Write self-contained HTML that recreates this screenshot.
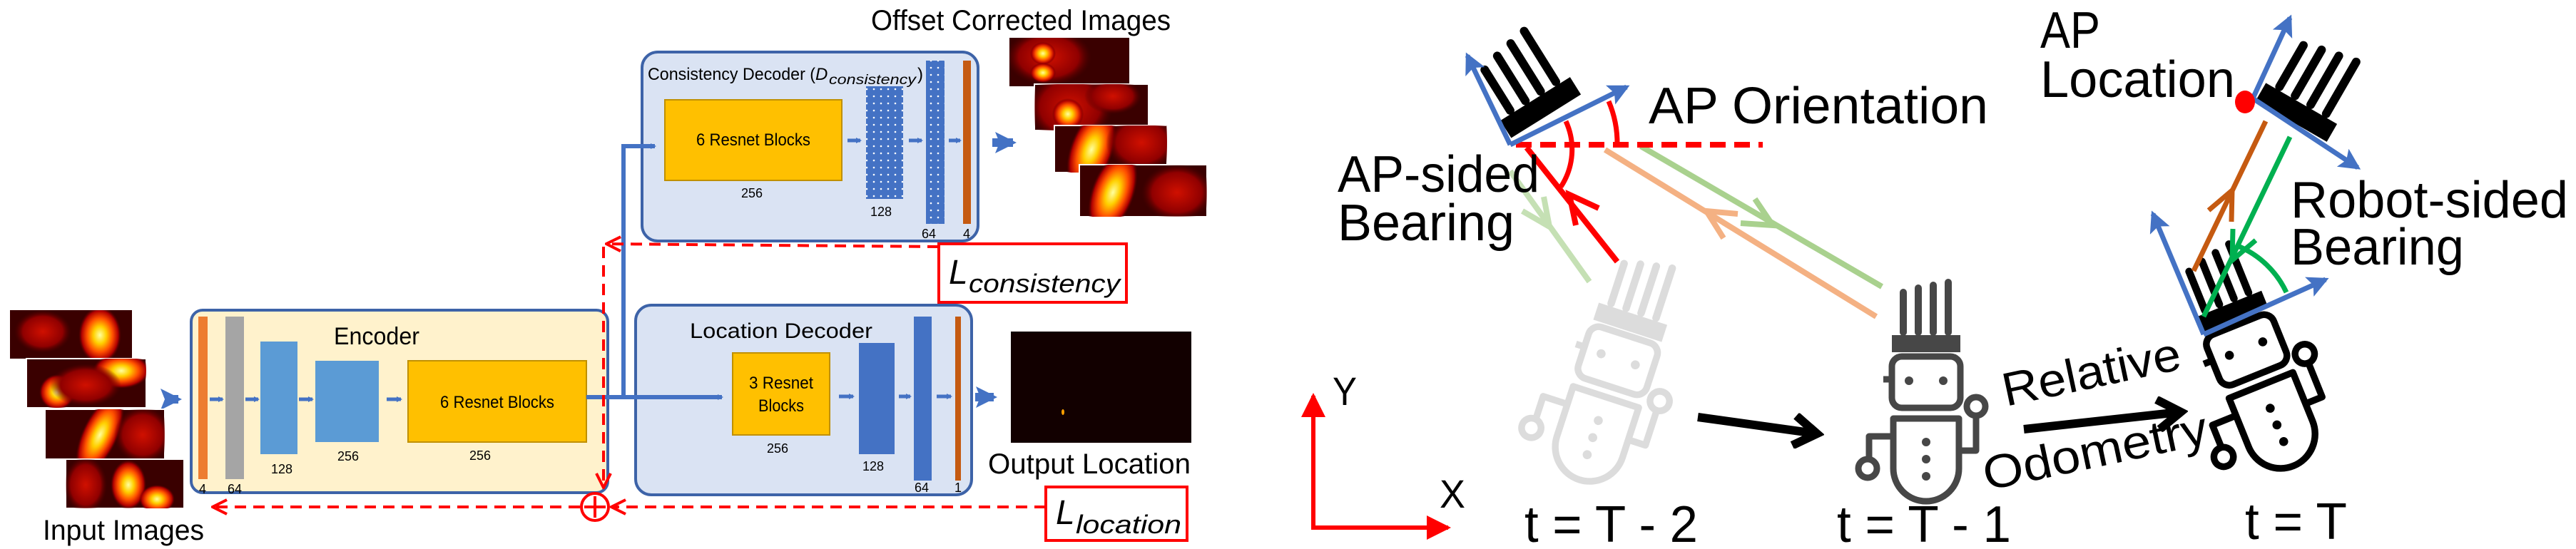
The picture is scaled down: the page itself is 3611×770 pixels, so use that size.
<!DOCTYPE html>
<html><head><meta charset="utf-8"><style>
html,body{margin:0;padding:0;background:#fff;}
svg{display:block;}
text{font-family:"Liberation Sans",sans-serif;}
</style></head><body>
<svg width="3611" height="770" viewBox="0 0 3611 770" xmlns="http://www.w3.org/2000/svg">
<defs>
<radialGradient id="hot" cx="50%" cy="50%" r="50%">
<stop offset="0" stop-color="#ffffa0"/><stop offset="0.3" stop-color="#ffd000"/><stop offset="0.6" stop-color="#ff5000"/><stop offset="0.85" stop-color="#b00000"/><stop offset="1" stop-color="#5a0000" stop-opacity="0"/>
</radialGradient>
<radialGradient id="red" cx="50%" cy="50%" r="50%">
<stop offset="0" stop-color="#d01000"/><stop offset="0.7" stop-color="#900000"/><stop offset="1" stop-color="#500000" stop-opacity="0"/>
</radialGradient>
<pattern id="dots" width="10" height="10" patternUnits="userSpaceOnUse">
<rect width="10" height="10" fill="#4472c4"/><circle cx="5" cy="5" r="1.3" fill="#fff"/>
</pattern>
<marker id="ab" markerWidth="8" markerHeight="8" refX="6" refY="4" orient="auto" markerUnits="userSpaceOnUse" viewBox="0 0 8 8"><path d="M0,0 L8,4 L0,8 z" fill="#4472c4"/></marker>
<marker id="bl" markerWidth="30" markerHeight="30" refX="25" refY="15" orient="auto" markerUnits="userSpaceOnUse"><path d="M0,0 L30,15 L0,30 L6,15 z" fill="#4472c4"/></marker>
<marker id="rd" markerWidth="24" markerHeight="24" refX="22" refY="12" orient="auto" markerUnits="userSpaceOnUse"><path d="M2,2 L22,12 L2,22" fill="none" stroke="#f00" stroke-width="4"/></marker>
<marker id="rda" markerWidth="34" markerHeight="34" refX="30" refY="17" orient="auto" markerUnits="userSpaceOnUse"><path d="M0,0 L34,17 L0,34 z" fill="#f00"/></marker>
<marker id="bk" markerWidth="50" markerHeight="50" refX="38" refY="25" orient="auto" markerUnits="userSpaceOnUse"><path d="M8,4 L40,25 L8,46" fill="none" stroke="#000" stroke-width="12"/></marker>
<g id="comb">
<rect x="-48" y="-22" width="96" height="24" fill="currentColor"/>
<g stroke="currentColor" stroke-width="10" stroke-linecap="round">
<line x1="-32" y1="-26" x2="-32" y2="-82"/><line x1="-11" y1="-26" x2="-11" y2="-88"/><line x1="10" y1="-26" x2="10" y2="-92"/><line x1="31" y1="-26" x2="31" y2="-96"/>
</g>
</g>
<g id="robot">
<use href="#comb"/>
<g fill="none" stroke="currentColor" stroke-width="9" stroke-linejoin="round">
<rect x="-48" y="8" width="96" height="72" rx="14"/>
<line x1="-48" y1="40" x2="-60" y2="40"/>
<path d="M-46,95 H46 V165 A46,46 0 0 1 -46,165 Z"/>
<path d="M46,140 H70 V92"/><circle cx="70" cy="78" r="13"/>
<path d="M-46,120 H-80 V150"/><circle cx="-82" cy="165" r="13"/>
</g>
<g fill="currentColor"><circle cx="-24" cy="42" r="6"/><circle cx="24" cy="42" r="6"/><circle cx="0" cy="128" r="6"/><circle cx="0" cy="152" r="6"/><circle cx="0" cy="176" r="6"/></g>
</g>
</defs>

<!-- ===== LEFT PANEL ===== -->
<text x="1221" y="42" font-size="40" textLength="420" lengthAdjust="spacingAndGlyphs">Offset Corrected Images</text>

<rect x="900" y="73" width="471" height="265" rx="22" fill="#dae3f3" stroke="#3d63a8" stroke-width="4"/>
<text x="908" y="112" font-size="24" textLength="235" lengthAdjust="spacingAndGlyphs">Consistency Decoder (</text>
<text x="1143" y="112" font-size="24" font-style="italic" font-family="Liberation Serif">D</text>
<text x="1162" y="118" font-size="19" font-style="italic" font-family="Liberation Serif" textLength="122" lengthAdjust="spacingAndGlyphs">consistency</text>
<text x="1286" y="112" font-size="24">)</text>
<rect x="932" y="140" width="248" height="113" fill="#ffc000" stroke="#c09000" stroke-width="2"/>
<text x="1056" y="204" font-size="24" text-anchor="middle" textLength="160" lengthAdjust="spacingAndGlyphs">6 Resnet Blocks</text>
<text x="1054" y="277" font-size="18" text-anchor="middle">256</text>
<rect x="1214" y="121" width="52" height="158" fill="url(#dots)"/>
<text x="1235" y="303" font-size="18" text-anchor="middle">128</text>
<rect x="1298" y="85" width="26" height="229" fill="url(#dots)"/>
<text x="1302" y="334" font-size="18" text-anchor="middle">64</text>
<rect x="1350" y="85" width="11" height="229" fill="#c55a11"/>
<text x="1355" y="334" font-size="18" text-anchor="middle">4</text>
<g stroke="#4472c4" stroke-width="5" marker-end="url(#ab)">
<line x1="1188" y1="197" x2="1206" y2="197"/><line x1="1274" y1="197" x2="1292" y2="197"/><line x1="1330" y1="197" x2="1346" y2="197"/>
</g>
<line x1="1391" y1="200" x2="1420" y2="200" stroke="#4472c4" stroke-width="12" marker-end="url(#bl)"/>

<g>
<clipPath id="c1"><rect x="1415" y="53" width="168" height="68"/></clipPath>
<rect x="1415" y="53" width="168" height="68" fill="#3a0000"/>
<g clip-path="url(#c1)"><ellipse cx="1470" cy="80" rx="60" ry="40" fill="url(#red)"/><ellipse cx="1462" cy="75" rx="18" ry="16" fill="url(#hot)"/><ellipse cx="1462" cy="102" rx="18" ry="14" fill="url(#hot)"/></g>
<clipPath id="c2"><rect x="1450" y="118" width="160" height="65"/></clipPath>
<rect x="1450" y="118" width="160" height="65" fill="#3a0000" stroke="#fff" stroke-width="2"/>
<g clip-path="url(#c2)"><ellipse cx="1500" cy="150" rx="60" ry="50" fill="url(#red)"/><ellipse cx="1497" cy="160" rx="22" ry="22" fill="url(#hot)"/><ellipse cx="1560" cy="135" rx="40" ry="25" fill="url(#red)"/></g>
<clipPath id="c3"><rect x="1478" y="176" width="158" height="66"/></clipPath>
<rect x="1478" y="176" width="158" height="66" fill="#3a0000" stroke="#fff" stroke-width="2"/>
<g clip-path="url(#c3)"><ellipse cx="1530" cy="210" rx="30" ry="60" fill="url(#hot)" transform="rotate(20 1530 210)"/><ellipse cx="1600" cy="200" rx="50" ry="40" fill="url(#red)"/></g>
<clipPath id="c4"><rect x="1513" y="231" width="179" height="73"/></clipPath>
<rect x="1513" y="231" width="179" height="73" fill="#3a0000" stroke="#fff" stroke-width="2"/>
<g clip-path="url(#c4)"><ellipse cx="1560" cy="270" rx="30" ry="60" fill="url(#hot)" transform="rotate(20 1560 270)"/><ellipse cx="1650" cy="270" rx="50" ry="40" fill="url(#red)"/></g>
</g>

<rect x="268" y="435" width="584" height="256" rx="16" fill="#fff2cc" stroke="#3d63a8" stroke-width="4"/>
<text x="528" y="483" font-size="34" text-anchor="middle" textLength="120" lengthAdjust="spacingAndGlyphs">Encoder</text>
<rect x="278" y="444" width="13" height="228" fill="#ed7d31"/>
<rect x="316" y="444" width="26" height="228" fill="#a5a5a5"/>
<rect x="365" y="479" width="52" height="158" fill="#5b9bd5"/>
<rect x="442" y="506" width="89" height="114" fill="#5b9bd5"/>
<rect x="572" y="506" width="250" height="114" fill="#ffc000" stroke="#c09000" stroke-width="2"/>
<text x="697" y="572" font-size="24" text-anchor="middle" textLength="160" lengthAdjust="spacingAndGlyphs">6 Resnet Blocks</text>
<text x="284" y="692" font-size="18" text-anchor="middle">4</text>
<text x="329" y="692" font-size="18" text-anchor="middle">64</text>
<text x="395" y="664" font-size="18" text-anchor="middle">128</text>
<text x="488" y="646" font-size="18" text-anchor="middle">256</text>
<text x="673" y="645" font-size="18" text-anchor="middle">256</text>
<g stroke="#4472c4" stroke-width="5" marker-end="url(#ab)">
<line x1="294" y1="560" x2="312" y2="560"/><line x1="344" y1="560" x2="362" y2="560"/><line x1="419" y1="560" x2="438" y2="560"/><line x1="542" y1="560" x2="562" y2="560"/>
</g>
<line x1="231" y1="560" x2="250" y2="560" stroke="#4472c4" stroke-width="12" marker-end="url(#bl)"/>

<g>
<clipPath id="i1"><rect x="14" y="435" width="171" height="68"/></clipPath>
<rect x="14" y="435" width="171" height="68" fill="#3a0000"/>
<g clip-path="url(#i1)"><ellipse cx="60" cy="465" rx="40" ry="30" fill="url(#red)"/><ellipse cx="140" cy="470" rx="30" ry="40" fill="url(#hot)"/></g>
<clipPath id="i2"><rect x="37" y="503" width="168" height="69"/></clipPath>
<rect x="37" y="503" width="168" height="69" fill="#3a0000" stroke="#fff" stroke-width="2"/>
<g clip-path="url(#i2)"><ellipse cx="80" cy="550" rx="25" ry="25" fill="url(#hot)"/><ellipse cx="170" cy="520" rx="40" ry="25" fill="url(#hot)"/><ellipse cx="120" cy="540" rx="50" ry="30" fill="url(#red)"/></g>
<clipPath id="i3"><rect x="63" y="574" width="168" height="70"/></clipPath>
<rect x="63" y="574" width="168" height="70" fill="#3a0000" stroke="#fff" stroke-width="2"/>
<g clip-path="url(#i3)"><ellipse cx="140" cy="610" rx="25" ry="60" fill="url(#hot)" transform="rotate(25 140 610)"/><ellipse cx="200" cy="610" rx="40" ry="40" fill="url(#red)"/></g>
<clipPath id="i4"><rect x="92" y="644" width="166" height="69"/></clipPath>
<rect x="92" y="644" width="166" height="69" fill="#3a0000" stroke="#fff" stroke-width="2"/>
<g clip-path="url(#i4)"><ellipse cx="180" cy="680" rx="25" ry="35" fill="url(#hot)"/><ellipse cx="220" cy="700" rx="25" ry="20" fill="url(#hot)"/><ellipse cx="120" cy="680" rx="30" ry="40" fill="url(#red)"/></g>
</g>
<text x="60" y="757" font-size="40" textLength="226" lengthAdjust="spacingAndGlyphs">Input Images</text>

<rect x="891" y="428" width="471" height="266" rx="22" fill="#dae3f3" stroke="#3d63a8" stroke-width="4"/>
<text x="1095" y="474" font-size="30" text-anchor="middle" textLength="256" lengthAdjust="spacingAndGlyphs">Location Decoder</text>
<rect x="1027" y="495" width="136" height="115" fill="#ffc000" stroke="#c09000" stroke-width="2"/>
<text x="1095" y="545" font-size="24" text-anchor="middle" textLength="90" lengthAdjust="spacingAndGlyphs">3 Resnet</text>
<text x="1095" y="577" font-size="24" text-anchor="middle" textLength="64" lengthAdjust="spacingAndGlyphs">Blocks</text>
<text x="1090" y="635" font-size="18" text-anchor="middle">256</text>
<rect x="1204" y="481" width="50" height="156" fill="#4472c4"/>
<text x="1224" y="660" font-size="18" text-anchor="middle">128</text>
<rect x="1281" y="444" width="25" height="230" fill="#4472c4"/>
<text x="1292" y="690" font-size="18" text-anchor="middle">64</text>
<rect x="1339" y="444" width="8" height="230" fill="#c55a11"/>
<text x="1343" y="690" font-size="18" text-anchor="middle">1</text>
<g stroke="#4472c4" stroke-width="5" marker-end="url(#ab)">
<line x1="1176" y1="556" x2="1196" y2="556"/><line x1="1260" y1="556" x2="1276" y2="556"/><line x1="1313" y1="556" x2="1333" y2="556"/>
</g>
<line x1="1367" y1="557" x2="1393" y2="557" stroke="#4472c4" stroke-width="12" marker-end="url(#bl)"/>

<rect x="1417" y="465" width="253" height="156" fill="#120000"/>
<ellipse cx="1490" cy="578" rx="2" ry="4" fill="#ffa000"/>
<text x="1385" y="664" font-size="40" textLength="284" lengthAdjust="spacingAndGlyphs">Output Location</text>

<line x1="822" y1="557" x2="1012" y2="557" stroke="#4472c4" stroke-width="6" marker-end="url(#ab)"/>
<path d="M874,557 V205 H918" fill="none" stroke="#4472c4" stroke-width="6" marker-end="url(#ab)"/>

<rect x="1316" y="342" width="263" height="82" fill="#fff" stroke="#f00" stroke-width="4"/>
<text x="1330" y="398" font-size="48" font-style="italic" font-family="Liberation Serif">L</text>
<text x="1358" y="410" font-size="36" font-style="italic" font-family="Liberation Serif" textLength="212" lengthAdjust="spacingAndGlyphs">consistency</text>
<rect x="1466" y="683" width="198" height="75" fill="#fff" stroke="#f00" stroke-width="4"/>
<text x="1480" y="735" font-size="48" font-style="italic" font-family="Liberation Serif">L</text>
<text x="1508" y="748" font-size="36" font-style="italic" font-family="Liberation Serif" textLength="148" lengthAdjust="spacingAndGlyphs">location</text>

<g fill="none" stroke="#f00" stroke-width="4" stroke-dasharray="16,10">
<line x1="1316" y1="346" x2="850" y2="342" marker-end="url(#rd)"/>
<line x1="846" y1="346" x2="846" y2="684" marker-end="url(#rd)"/>
<line x1="1466" y1="711" x2="857" y2="711" marker-end="url(#rd)"/>
<line x1="813" y1="711" x2="298" y2="711" marker-end="url(#rd)"/>
</g>
<circle cx="834" cy="711" r="19" fill="#fff" stroke="#f00" stroke-width="4"/>
<path d="M834,696 V726 M819,711 H849" stroke="#f00" stroke-width="4"/>

<!-- ===== RIGHT PANEL ===== -->
<line x1="1841" y1="740" x2="1841" y2="555" stroke="#f00" stroke-width="6" marker-end="url(#rda)"/>
<line x1="1838" y1="740" x2="2030" y2="740" stroke="#f00" stroke-width="6" marker-end="url(#rda)"/>
<text x="1868" y="568" font-size="56" textLength="34" lengthAdjust="spacingAndGlyphs">Y</text>
<text x="2018" y="712" font-size="56" textLength="36" lengthAdjust="spacingAndGlyphs">X</text>

<g color="#dcdcdc"><use href="#robot" transform="translate(2282,462) rotate(18) scale(1.05)"/></g>
<g color="#474747"><use href="#robot" transform="translate(2700,492)"/></g>
<g color="#000"><use href="#robot" transform="translate(3132,448) rotate(-22) scale(1.05)"/></g>

<g color="#000"><use href="#comb" transform="translate(2166,161) rotate(-32) scale(1.2)"/></g>
<g color="#000"><use href="#comb" transform="translate(3213,168) rotate(30) scale(1.2)"/></g>

<!-- bearing lines -->
<line x1="2228" y1="395" x2="2117" y2="240" stroke="#c5e0b4" stroke-width="8"/>
<path d="M2164,276 L2172,318 L2134,296" fill="none" stroke="#c5e0b4" stroke-width="8"/>
<line x1="2630" y1="444" x2="2250" y2="210" stroke="#f4b183" stroke-width="8"/>
<path d="M2436,300 L2392,296 L2416,334" fill="none" stroke="#f4b183" stroke-width="8"/>
<line x1="2638" y1="402" x2="2300" y2="205" stroke="#a9d18e" stroke-width="8"/>
<path d="M2460,279 L2485,316 L2440,313" fill="none" stroke="#a9d18e" stroke-width="8"/>
<line x1="2267" y1="367" x2="2140" y2="207" stroke="#f00" stroke-width="8"/>
<path d="M2241,292 L2200,273 L2209,316" fill="none" stroke="#f00" stroke-width="8"/>

<line x1="2125" y1="203" x2="2471" y2="203" stroke="#f00" stroke-width="8" stroke-dasharray="22,12"/>
<path d="M2255,142 A150,150 0 0 1 2267,203" fill="none" stroke="#f00" stroke-width="7"/>
<path d="M2195,170 A95,95 0 0 1 2188,262" fill="none" stroke="#f00" stroke-width="7"/>

<g stroke="#4472c4" stroke-width="7" fill="none">
<line x1="2117" y1="203" x2="2057" y2="78" marker-end="url(#bl)"/>
<line x1="2117" y1="203" x2="2280" y2="122" marker-end="url(#bl)"/>
</g>

<line x1="3075" y1="380" x2="3176" y2="170" stroke="#c55a11" stroke-width="7"/>
<path d="M3128,311 L3129,267 L3096,295" fill="none" stroke="#c55a11" stroke-width="7"/>
<line x1="3089" y1="444" x2="3210" y2="192" stroke="#00b050" stroke-width="7"/>
<path d="M3162,337 L3129,365 L3130,321" fill="none" stroke="#00b050" stroke-width="7"/>
<path d="M3137,345 A130,130 0 0 1 3205,410" fill="none" stroke="#00b050" stroke-width="7"/>
<g stroke="#4472c4" stroke-width="7" fill="none">
<line x1="3158" y1="138" x2="3210" y2="25" marker-end="url(#bl)"/>
<line x1="3158" y1="138" x2="3305" y2="235" marker-end="url(#bl)"/>
<line x1="3089" y1="469" x2="3018" y2="300" marker-end="url(#bl)"/>
<line x1="3089" y1="469" x2="3260" y2="392" marker-end="url(#bl)"/>
</g>
<ellipse cx="3147" cy="143" rx="14" ry="16" fill="#f00"/>

<line x1="2380" y1="585" x2="2545" y2="608" stroke="#000" stroke-width="12" marker-end="url(#bk)"/>
<line x1="2837" y1="602" x2="3055" y2="578" stroke="#000" stroke-width="12" marker-end="url(#bk)"/>

<text x="2311" y="173" font-size="72" textLength="476" lengthAdjust="spacingAndGlyphs">AP Orientation</text>
<text x="2860" y="67" font-size="72" textLength="84" lengthAdjust="spacingAndGlyphs">AP</text>
<text x="2860" y="136" font-size="72" textLength="273" lengthAdjust="spacingAndGlyphs">Location</text>
<text x="1875" y="269" font-size="72" textLength="283" lengthAdjust="spacingAndGlyphs">AP-sided</text>
<text x="1875" y="337" font-size="72" textLength="248" lengthAdjust="spacingAndGlyphs">Bearing</text>
<text x="3211" y="305" font-size="72" textLength="389" lengthAdjust="spacingAndGlyphs">Robot-sided</text>
<text x="3211" y="371" font-size="72" textLength="243" lengthAdjust="spacingAndGlyphs">Bearing</text>
<text x="2812" y="570" font-size="66" textLength="254" lengthAdjust="spacingAndGlyphs" transform="rotate(-12 2812 570)">Relative</text>
<text x="2785" y="688" font-size="66" textLength="320" lengthAdjust="spacingAndGlyphs" transform="rotate(-12 2785 688)">Odometry</text>
<text x="2137" y="760" font-size="72" textLength="243" lengthAdjust="spacingAndGlyphs">t = T - 2</text>
<text x="2575" y="760" font-size="72" textLength="244" lengthAdjust="spacingAndGlyphs">t = T - 1</text>
<text x="3147" y="756" font-size="72" textLength="143" lengthAdjust="spacingAndGlyphs">t = T</text>
</svg>
</body></html>
